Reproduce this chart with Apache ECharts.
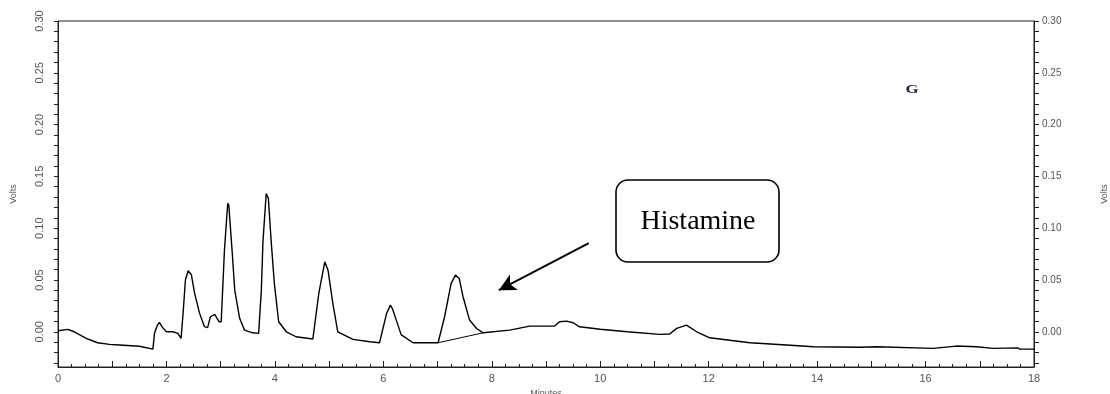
<!DOCTYPE html>
<html>
<head>
<meta charset="utf-8">
<script src="https://cdn.jsdelivr.net/npm/echarts@6/dist/echarts.min.js"></script>
<style>html,body{margin:0;padding:0;background:#fff;}#c{width:1110px;height:394px;}</style>
</head>
<body>
<div id="c"></div>
<script>
// Retention time (minutes)
var times = [0.00,0.18,0.30,0.52,0.73,0.95,1.13,1.50,1.75,1.78,1.83,1.87,1.93,2.00,2.12,2.21,2.27,2.31,2.35,2.40,2.46,2.52,2.61,2.70,2.76,2.81,2.89,2.97,3.01,3.07,3.13,3.15,3.21,3.26,3.35,3.44,3.59,3.70,3.75,3.78,3.84,3.88,3.93,3.99,4.07,4.21,4.39,4.70,4.81,4.92,4.98,5.07,5.16,5.44,5.75,5.93,6.06,6.13,6.17,6.24,6.33,6.55,7.01,7.13,7.25,7.33,7.40,7.47,7.59,7.72,7.84,8.33,8.70,9.16,9.25,9.38,9.50,9.62,10.0,10.5,11.1,11.28,11.41,11.59,11.78,12.02,12.76,13.44,13.93,14.79,15.1,16.14,16.57,16.94,17.25,17.70,17.74,18.0];
// Detector signal (volts)
var volts = [0.001,0.0023,0.0,-0.0064,-0.0106,-0.0122,-0.0128,-0.014,-0.0167,-0.0015,0.006,0.009,0.004,0.0,0.0,-0.0015,-0.0064,0.02,0.05,0.0589,0.055,0.037,0.018,0.005,0.004,0.0145,0.0168,0.0097,0.0097,0.079,0.124,0.122,0.079,0.040,0.013,0.0016,-0.001,-0.0015,0.04,0.087,0.1335,0.1287,0.0885,0.0467,0.0097,0.0,-0.0048,-0.007,0.037,0.0675,0.0595,0.027,0.0,-0.0073,-0.0096,-0.0106,0.0177,0.0257,0.022,0.011,-0.003,-0.0106,-0.0106,0.0145,0.0467,0.0547,0.0515,0.0338,0.0113,0.0032,-0.001,0.0016,0.0055,0.0055,0.0097,0.0103,0.0087,0.0048,0.0025,0.0,-0.0025,-0.0022,0.0033,0.0065,0.0,-0.0058,-0.0106,-0.0128,-0.0145,-0.015,-0.0145,-0.016,-0.0138,-0.0145,-0.016,-0.0155,-0.0167,-0.0167];
// Histamine peak integration baseline
var baseTimes = [7.01, 7.84];
var baseVolts = [-0.0106, -0.001];
// Arrow annotation (from box toward histamine peak)
var arrowFrom = [9.79, 0.0856];
var arrowTo = [8.13, 0.0402];
// Tick labels
var xLabelValues = [0,2,4,6,8,10,12,14,16,18];
var yLabelValues = [0,0.05,0.10,0.15,0.20,0.25,0.30];
var yTickValues = [-0.03,-0.02,-0.01,0,0.01,0.02,0.03,0.04,0.05,0.06,0.07,0.08,0.09,0.10,0.11,0.12,0.13,0.14,0.15,0.16,0.17,0.18,0.19,0.20,0.21,0.22,0.23,0.24,0.25,0.26,0.27,0.28,0.29,0.30];

var trace = times.map(function(t,i){return [t, volts[i]];});
var baseline = baseTimes.map(function(t,i){return [t, baseVolts[i]];});

var chart = echarts.init(document.getElementById('c'));
var axisColor = '#222';
var labelColor = '#555';
var yCommon = {
  type: 'value', min: -0.034, max: 0.30,
  splitLine: {show: false},
  axisLine: {show: true, onZero: false, lineStyle: {color: axisColor, width: 1}},
  axisTick: {show: true, inside: false, length: 4, customValues: yTickValues, lineStyle: {color: axisColor}},
  name: 'Volts', nameLocation: 'middle', nameRotate: 90,
  nameTextStyle: {fontFamily: 'Liberation Sans', fontSize: 9, color: labelColor}
};
chart.setOption({
  animation: false,
  backgroundColor: '#fff',
  grid: {left: 58, right: 76, top: 21, bottom: 27, containLabel: false, outerBoundsMode: 'none',
         show: true, borderColor: axisColor, borderWidth: 1},
  xAxis: {
    type: 'value', min: 0, max: 18, interval: 1,
    name: 'Minutes', nameLocation: 'middle', nameGap: 21,
    nameTextStyle: {fontFamily: 'Liberation Sans', fontSize: 9, color: labelColor},
    splitLine: {show: false},
    axisLine: {show: true, onZero: false, lineStyle: {color: axisColor, width: 1}},
    axisTick: {show: true, inside: true, length: 6, lineStyle: {color: axisColor}},
    minorTick: {show: true, splitNumber: 4, length: 3, lineStyle: {color: axisColor}},
    axisLabel: {customValues: xLabelValues, margin: 6, fontFamily: 'Liberation Sans', fontSize: 11, color: labelColor}
  },
  yAxis: [
    Object.assign({}, yCommon, {
      position: 'left', nameGap: 40,
      axisLabel: {customValues: yLabelValues, rotate: 90, margin: 13, fontFamily: 'Liberation Sans', fontSize: 11, color: labelColor,
        formatter: function(v){return v.toFixed(2);}}
    }),
    Object.assign({}, yCommon, {
      position: 'right', nameGap: 66,
      axisTick: {show: true, inside: false, length: 5, customValues: yTickValues, lineStyle: {color: axisColor}},
      axisLabel: {customValues: yLabelValues, margin: 8, fontFamily: 'Liberation Sans', fontSize: 10, color: labelColor,
        formatter: function(v){return v.toFixed(2);}}
    })
  ],
  series: [
    {
      type: 'line', data: trace, showSymbol: false, symbol: 'none', smooth: false,
      lineStyle: {color: '#000', width: 1.4},
      markLine: {
        silent: true, symbol: ['none', 'arrow'], symbolSize: [13, 17],
        label: {show: false},
        lineStyle: {color: '#000', width: 2, type: 'solid'},
        data: [[{coord: arrowFrom}, {coord: arrowTo}]]
      }
    },
    {
      type: 'line', data: baseline, showSymbol: false, symbol: 'none',
      lineStyle: {color: '#000', width: 1}
    }
  ],
  graphic: [
    {type: 'rect', shape: {x: 616, y: 180, width: 163, height: 82, r: 12},
     style: {fill: '#fff', stroke: '#000', lineWidth: 1.6}, z: 100},
    {type: 'text', x: 698, y: 222, z: 101,
     style: {text: 'Histamine', font: '28px "Liberation Serif"', fill: '#000', textAlign: 'center', textVerticalAlign: 'middle'}},
    {type: 'text', x: 912, y: 90, z: 101, scaleX: 1.4,
     style: {text: 'G', font: 'bold 12px "Liberation Serif"', fill: '#1c2340', textAlign: 'center', textVerticalAlign: 'middle'}}
  ]
});
</script>
</body>
</html>
